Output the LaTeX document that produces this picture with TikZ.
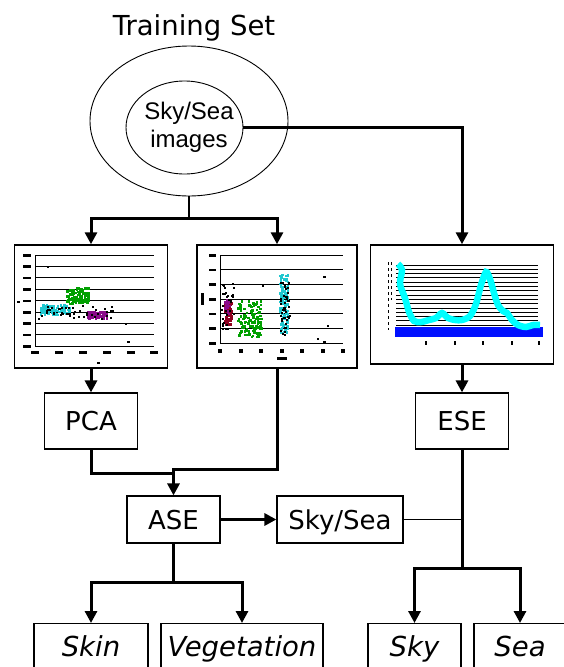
\documentclass[tikz,border=0pt]{standalone}
\usepackage{fontspec}
\setmainfont{DejaVu Sans}
\newfontfamily\arialfont{Liberation Sans}
\usepackage{xcolor}
\definecolor{00a000}{HTML}{00a000}
\definecolor{00cccc}{HTML}{20c8d0}
\definecolor{00ffff}{HTML}{00ffff}
\definecolor{0000ff}{HTML}{0010ff}
\definecolor{800080}{HTML}{8a0a8a}
\definecolor{800000}{HTML}{900020}
\usetikzlibrary{shapes.geometric}
\usetikzlibrary{arrows.meta}

\begin{document}
\begin{tikzpicture}[x=1pt, y=-1pt,
    box/.style={draw, line width=1.2pt, minimum width=93pt, minimum height=56pt, inner sep=0pt,
                text height=19pt, text depth=0pt, font=\fontsize{26}{30}\selectfont},
    plotbox/.style={draw, line width=1.5pt, inner sep=0pt},
    outbox/.style={draw, line width=1.2pt, anchor=north, inner sep=0pt, inner ysep=14pt,
                   text height=19pt, text depth=27pt, font=\fontsize{27.5}{30}\selectfont\itshape},
    flow/.style={line width=3pt},
    link/.style={line width=1.1pt},
    arrow/.style={flow, -{Triangle[length=12pt, width=12pt]}},
    gridline/.style={line width=1pt}]
            \useasboundingbox (0,0) rectangle (564,667);
            \clip (0,0) rectangle (564,667);
            \pgfmathsetseed{11}

            \node[anchor=base, font=\fontsize{27.5}{30}\selectfont] (title) at (194,35) {Training Set};
            \node[draw, ellipse, line width=0.9pt, minimum width=198pt, minimum height=150pt] (trainset) at (189,121) {};
            \node[draw, ellipse, line width=0.9pt, minimum width=117pt, minimum height=93pt] (images) at (184.5,127.5) {};
            \node[align=center, font=\arialfont\fontsize{24}{28}\selectfont] (imageslabel) at (189,127.5) {Sky/Sea\\images};

            \node[plotbox, minimum width=153pt, minimum height=123pt] (pcaplot) at (91,306.5) {};
            \node[plotbox, minimum width=160pt, minimum height=123pt] (aseplot) at (277,306.5) {};
            \node[plotbox, minimum width=183pt, minimum height=119pt] (eseplot) at (462,304.5) {};

            \node[box] (pca) at (91,421) {PCA};
            \node[box] (ese) at (462,421) {ESE};
            \node[box, minimum height=47pt] (ase) at (173.5,519.5) {ASE};
            \node[box, minimum height=47pt, minimum width=126pt] (skysea) at (340,519.5) {Sky/Sea};

            \node[outbox, minimum width=114pt] (skin) at (91,623) {Skin};
            \node[outbox, minimum width=162pt] (vegetation) at (242,623) {Vegetation};
            \node[outbox, minimum width=93pt] (sky) at (414.5,623) {Sky};
            \node[outbox, minimum width=92pt] (sea) at (520,623) {Sea};

            % first scatter plot
            \foreach \k in {0,...,8} \draw[gridline] (35,{255+11.4*\k}) -- (154,{255+11.4*\k});
            \draw[gridline] (35,255) -- (35,346);
            \foreach \k in {0,...,8} \fill (23,{254+11.4*\k}) rectangle (31,{256.5+11.4*\k});
            \foreach \x in {35,59,83,107,131,154} \fill ({\x-4},351) rectangle ({\x+4},354);
            \fill (17,301) rectangle (20,303);
            \fill (97,362) rectangle (100,364);
            \foreach \i in {1,...,110} \fill[color=00a000] ({77+11*rand},{295+8*rand}) rectangle +(2.5,2.5);
            \foreach \i in {1,...,80} \fill[color=00cccc] ({54+15*rand},{309+5*rand}) rectangle +(2.5,2.5);
            \foreach \i in {1,...,70} \fill[color=800080] ({96+10*rand},{314+3.5*rand}) rectangle +(2.5,2.5);
            \foreach \i in {1,...,45} \fill ({75+38*rand},{311+7*rand}) rectangle +(2,2);
            \fill (47,266) rectangle +(2,2);
            \fill (125,323) rectangle +(2,2);
            \fill (127,341) rectangle +(3,2);

            % second scatter plot
            \foreach \k in {0,...,6} \draw[gridline] (220,{255+14.67*\k}) -- (343,{255+14.67*\k});
            \draw[gridline] (220,255) -- (220,343);
            \foreach \k in {0,...,6} \fill (209,{254+14.67*\k}) rectangle (216,{256.5+14.67*\k});
            \foreach \k in {0,...,6} \fill ({218+20.5*\k},349) rectangle ({222+20.5*\k},353);
            \fill (201,293) rectangle (204,305);
            \fill (277,357) rectangle (287,360);
            \foreach \i in {1,...,55} \fill[color=800000] ({227+3.5*rand},{313+11*rand}) rectangle +(2.5,2.5);
            \foreach \i in {1,...,20} \fill[color=800080] ({226+2.5*rand},{306+7*rand}) rectangle +(2.5,2.5);
            \foreach \i in {1,...,110} \fill[color=00a000] ({249+12*rand},{318+18*rand}) rectangle +(2.5,2.5);
            \foreach \i in {1,...,110} \fill[color=00cccc] ({283+4*rand},{303+30*rand}) rectangle +(2.5,2.5);
            \foreach \i in {1,...,45} \fill ({284+5*rand},{308+27*rand}) rectangle +(2,2);
            \foreach \i in {1,...,30} \fill ({227+6*rand},{305+24*rand}) rectangle +(2,2);
            \fill (323,276) rectangle +(3,2);
            \fill (327,325) rectangle +(2,2);
            \fill (317,338) rectangle +(2,2);
            \fill (323,341) rectangle +(3,2);
            \fill (262,285) rectangle +(2,2);

            % energy plot
            \foreach \k in {0,...,15} \draw[gridline] (396,{265+4.3*\k}) -- (538,{265+4.3*\k});
            \draw[dashed, line width=0.9pt] (388,262) -- (388,330);
            \draw[dashed, line width=0.9pt] (391,262) -- (391,300);
            \fill[color=0000ff] (395,327) rectangle (543,337);
            \draw[color=00ffff, line width=6.5pt] plot[smooth] coordinates {(398,264) (402,270) (400,284) (405,298)
                (409,312) (414,321) (421,322) (429,320) (436,318) (442,313) (448,318) (455,320) (462,320)
                (470,316) (476,304) (481,285) (486,272) (490,279) (494,293) (498,305) (503,311) (507,313)
                (512,320) (518,325) (526,327) (533,325) (540,325)};
            \foreach \x in {426,455,483,512,539} \draw[line width=1.2pt] (\x,341) -- (\x,345);

            % connectors
            \coordinate (tsplit) at (189,218);
            \draw[link] (trainset.south) -- (tsplit);
            \draw[arrow] (tsplit) -| (pcaplot.north);
            \draw[arrow] (tsplit) -| (aseplot.north);
            \draw[arrow] (images.east) -| (eseplot.north);

            \draw[arrow] (pcaplot.south) -- (pca.north);
            \draw[arrow] (eseplot.south) -- (ese.north);
            \coordinate (pcajoin) at (173.5,473);
            \coordinate (plotjoin) at (173.5,469);
            \draw[flow] (pca.south) |- (pcajoin);
            \draw[arrow] (aseplot.south) |- (plotjoin) -- (ase.north);

            \draw[arrow] (ase.east) -- (skysea.west);
            \draw[link] (skysea.east) -- (skysea.east -| ese.south);

            \coordinate (asesplit) at (173.5,582);
            \draw[flow] (ase.south) -- (asesplit);
            \draw[arrow] (asesplit) -| (skin.north);
            \draw[arrow] (asesplit) -| (vegetation.north);

            \coordinate (esesplit) at (462,568);
            \draw[flow] (ese.south) -- (esesplit);
            \draw[arrow] (esesplit) -| (sky.north);
            \draw[arrow] (esesplit) -| (sea.north);
        \end{tikzpicture}
\end{document}
